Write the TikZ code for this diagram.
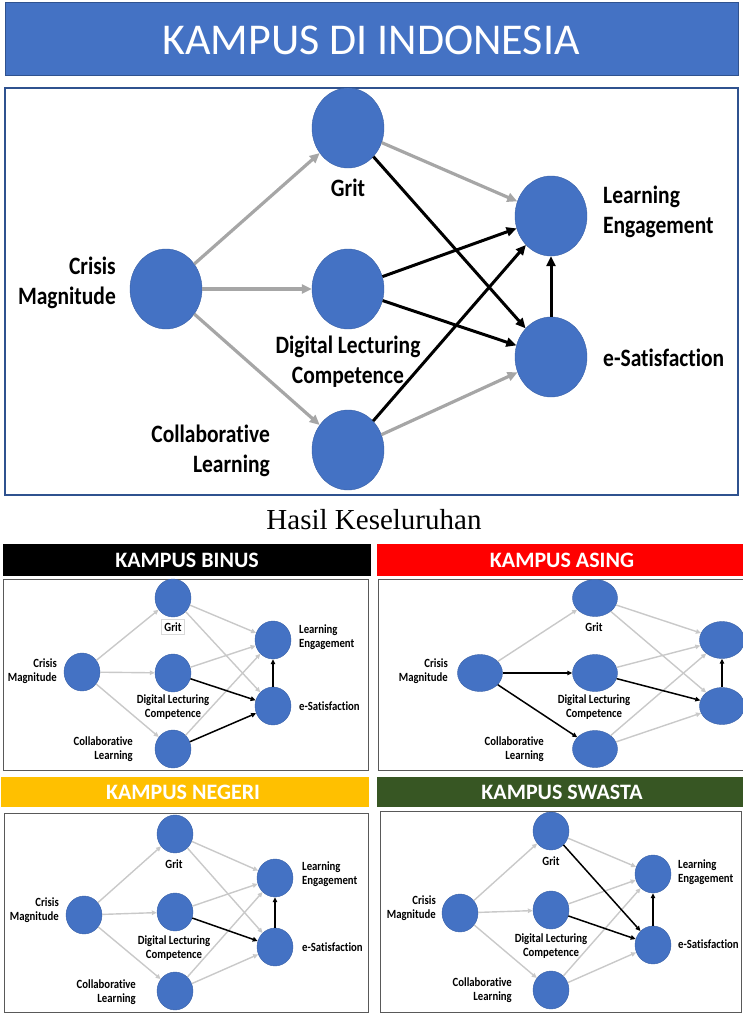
\documentclass[tikz,border=0pt]{standalone}
\usepackage{fontspec}
\setmainfont[Ligatures=NoCommon]{Carlito}
\newfontfamily\lblfont[FakeStretch=0.86,Ligatures=NoCommon]{Carlito}
\newfontfamily\capfont{Liberation Serif}
\usetikzlibrary{shapes.geometric,arrows.meta,positioning}
\definecolor{nodeblue}{HTML}{4472C4}
\definecolor{boxblue}{HTML}{2F528F}
\definecolor{palegray}{HTML}{A6A6A6}
\definecolor{lightgray2}{HTML}{C9C9C9}
\definecolor{asingred}{HTML}{FF0000}
\definecolor{negeriyellow}{HTML}{FFC000}
\definecolor{swastagreen}{HTML}{375623}
\definecolor{panelgray}{HTML}{595959}

\tikzset{
  bigvar/.style={ellipse,fill=nodeblue,draw=nodeblue!85!black,minimum width=72,minimum height=80,inner sep=0pt},
  smallvar/.style={ellipse,fill=nodeblue,draw=nodeblue!85!black,minimum width=36,minimum height=38,inner sep=0pt},
  widevar/.style={smallvar,minimum width=45,minimum height=37},
  biglbl/.style={font=\lblfont\bfseries\fontsize{25}{30}\selectfont,inner sep=0pt},
  smalllbl/.style={font=\lblfont\bfseries\fontsize{12.5}{13.5}\selectfont,inner sep=0pt},
  bigpale/.style={-{Triangle[length=10pt,width=9pt]},line width=3.2pt,draw=palegray},
  bigdark/.style={-{Triangle[length=10pt,width=9pt]},line width=3pt,draw=black},
  pale/.style={-{Triangle[length=5pt,width=4.5pt]},line width=1.4pt,draw=lightgray2},
  dark/.style={-{Triangle[length=5pt,width=4.5pt]},line width=1.5pt,draw=black},
  header/.style={text=white,font=\bfseries\fontsize{22}{24}\selectfont}
}

\begin{document}
\begin{tikzpicture}[x=1pt,y=-1pt]
\useasboundingbox (0,0) rectangle (742,1014);

% title banner and overall result
\draw[fill=nodeblue,draw=boxblue,line width=1pt] (5,3) rectangle (738,76);
\node[text=white,font=\fontsize{44}{50}\selectfont] (title) at (371,40) {KAMPUS DI INDONESIA};
\draw[draw=boxblue,line width=1.3pt] (5,88) rectangle (738,495);
\node[font=\capfont\fontsize{29}{32}\selectfont] (caption) at (374,520) {Hasil Keseluruhan};

\node[bigvar] (all-cm) at (166,289) {};
\node[bigvar] (all-grit) at (348,128) {};
\node[bigvar] (all-dlc) at (348,289) {};
\node[bigvar] (all-cl) at (348,450) {};
\node[bigvar] (all-le) at (551,216) {};
\node[bigvar] (all-es) at (551,357) {};

\node[biglbl,anchor=east,align=right] (all-cm-lbl) at (116,283) {Crisis\\Magnitude};
\node[biglbl] (all-grit-lbl) at (348,188) {Grit};
\node[biglbl,align=center] (all-dlc-lbl) at (348,362) {Digital Lecturing\\Competence};
\node[biglbl,anchor=east,align=right] (all-cl-lbl) at (270,451) {Collaborative\\Learning};
\node[biglbl,anchor=west,align=left] (all-le-lbl) at (603,212) {Learning\\Engagement};
\node[biglbl,anchor=west] (all-es-lbl) at (603,358) {e-Satisfaction};

\foreach \a/\b in {cm/grit,cm/dlc,cm/cl,grit/le,cl/es}
  \draw[bigpale] (all-\a) -- (all-\b);
\foreach \a/\b in {grit/es,dlc/le,dlc/es,cl/le,es/le}
  \draw[bigdark] (all-\a) -- (all-\b);

% kampus binus
\draw[fill=black] (3,544) rectangle (370,575);
\node[header] (bn-head) at (187,560) {KAMPUS BINUS};
\draw[draw=panelgray,line width=1pt] (3,579) rectangle (368,770);
\node[smallvar] (bn-cm) at (82,672) {};
\node[smallvar] (bn-grit) at (173,598) {};
\node[smallvar] (bn-dlc) at (173,673) {};
\node[smallvar] (bn-cl) at (173,749) {};
\node[smallvar] (bn-le) at (273,640) {};
\node[smallvar] (bn-es) at (273,706) {};
\node[smalllbl,anchor=east,align=right] (bn-cm-lbl) at (57,671) {Crisis\\Magnitude};
\node[smalllbl,draw=black!15,line width=0.6pt,inner sep=3pt] (bn-grit-lbl) at (173,627) {Grit};
\node[smalllbl,align=center] (bn-dlc-lbl) at (173,707) {Digital Lecturing\\Competence};
\node[smalllbl,anchor=east,align=right] (bn-cl-lbl) at (133,749) {Collaborative\\Learning};
\node[smalllbl,anchor=west,align=left] (bn-le-lbl) at (299,637) {Learning\\Engagement};
\node[smalllbl,anchor=west] (bn-es-lbl) at (299,706) {e-Satisfaction};
\foreach \a/\b in {cm/grit,cm/dlc,cm/cl,grit/le,grit/es,dlc/le,cl/le}
  \draw[pale] (bn-\a) -- (bn-\b);
\foreach \a/\b in {dlc/es,cl/es,es/le}
  \draw[dark] (bn-\a) -- (bn-\b);

% kampus asing
\draw[fill=asingred,draw=asingred] (377,544) rectangle (742,575);
\node[header] (as-head) at (562,560) {KAMPUS ASING};
\draw[draw=panelgray,line width=1pt] (378,579) rectangle (746,770);
\node[widevar] (as-cm) at (480,673) {};
\node[widevar] (as-grit) at (595,598) {};
\node[widevar] (as-dlc) at (595,673) {};
\node[widevar] (as-cl) at (595,749) {};
\node[widevar] (as-le) at (722,640) {};
\node[widevar] (as-es) at (722,706) {};
\node[smalllbl,anchor=east,align=right] (as-cm-lbl) at (448,671) {Crisis\\Magnitude};
\node[smalllbl] (as-grit-lbl) at (594,627) {Grit};
\node[smalllbl,align=center] (as-dlc-lbl) at (594,707) {Digital Lecturing\\Competence};
\node[smalllbl,anchor=east,align=right] (as-cl-lbl) at (544,749) {Collaborative\\Learning};
\foreach \a/\b in {cm/grit,grit/le,grit/es,dlc/le,cl/le,cl/es}
  \draw[pale] (as-\a) -- (as-\b);
\foreach \a/\b in {cm/dlc,cm/cl,dlc/es,es/le}
  \draw[dark] (as-\a) -- (as-\b);

% kampus negeri
\draw[fill=negeriyellow,draw=negeriyellow] (1,777) rectangle (368,806);
\node[header] (ng-head) at (183,792) {KAMPUS NEGERI};
\draw[draw=panelgray,line width=1pt] (4,813) rectangle (368,1012);
\node[smallvar] (ng-cm) at (84,915) {};
\node[smallvar] (ng-grit) at (175,834) {};
\node[smallvar] (ng-dlc) at (175,912) {};
\node[smallvar] (ng-cl) at (175,991) {};
\node[smallvar] (ng-le) at (275,878) {};
\node[smallvar] (ng-es) at (275,947) {};
\node[smalllbl,anchor=east,align=right] (ng-cm-lbl) at (59,910) {Crisis\\Magnitude};
\node[smalllbl] (ng-grit-lbl) at (174,864) {Grit};
\node[smalllbl,align=center] (ng-dlc-lbl) at (174,948) {Digital Lecturing\\Competence};
\node[smalllbl,anchor=east,align=right] (ng-cl-lbl) at (136,992) {Collaborative\\Learning};
\node[smalllbl,anchor=west,align=left] (ng-le-lbl) at (302,874) {Learning\\Engagement};
\node[smalllbl,anchor=west] (ng-es-lbl) at (302,947) {e-Satisfaction};
\foreach \a/\b in {cm/grit,cm/dlc,cm/cl,grit/le,grit/es,dlc/le,cl/le,cl/es}
  \draw[pale] (ng-\a) -- (ng-\b);
\foreach \a/\b in {dlc/es,es/le}
  \draw[dark] (ng-\a) -- (ng-\b);

% kampus swasta
\draw[fill=swastagreen,draw=swastagreen] (377,777) rectangle (742,806);
\node[header] (sw-head) at (562,792) {KAMPUS SWASTA};
\draw[draw=panelgray,line width=1pt] (380,811) rectangle (741,1012);
\node[smallvar] (sw-cm) at (460,913) {};
\node[smallvar] (sw-grit) at (551,831) {};
\node[smallvar] (sw-dlc) at (551,910) {};
\node[smallvar] (sw-cl) at (551,990) {};
\node[smallvar] (sw-le) at (653,874) {};
\node[smallvar] (sw-es) at (653,945) {};
\node[smalllbl,anchor=east,align=right] (sw-cm-lbl) at (436,908) {Crisis\\Magnitude};
\node[smalllbl] (sw-grit-lbl) at (551,861) {Grit};
\node[smalllbl,align=center] (sw-dlc-lbl) at (551,946) {Digital Lecturing\\Competence};
\node[smalllbl,anchor=east,align=right] (sw-cl-lbl) at (512,990) {Collaborative\\Learning};
\node[smalllbl,anchor=west,align=left] (sw-le-lbl) at (678,872) {Learning\\Engagement};
\node[smalllbl,anchor=west] (sw-es-lbl) at (678,944) {e-Satisfaction};
\foreach \a/\b in {cm/grit,cm/dlc,cm/cl,grit/le,dlc/le,cl/le,cl/es}
  \draw[pale] (sw-\a) -- (sw-\b);
\foreach \a/\b in {grit/es,dlc/es,es/le}
  \draw[dark] (sw-\a) -- (sw-\b);
\end{tikzpicture}
\end{document}
